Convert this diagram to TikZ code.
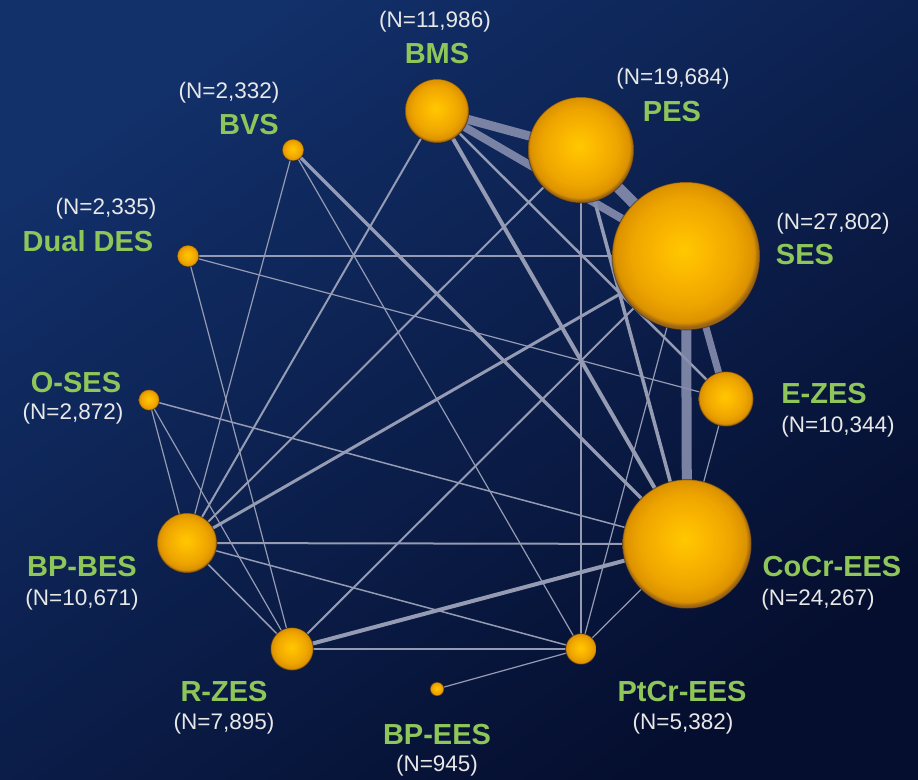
\documentclass[tikz,border=0pt]{standalone}
\usepackage{fontspec}
\setmainfont{Liberation Sans}
\definecolor{bgA}{HTML}{12306A}
\definecolor{bgM}{HTML}{031544}
\definecolor{bgB}{HTML}{050E2E}
\definecolor{bandc}{HTML}{878EAE}
\definecolor{linkc}{HTML}{959BB3}
\definecolor{namec}{HTML}{8FC65A}
\definecolor{numc}{HTML}{E8E8E8}
\definecolor{sphA}{HTML}{FFC800}
\definecolor{sphB}{HTML}{FBB800}
\definecolor{sphC}{HTML}{EEA500}
\definecolor{sphD}{HTML}{DC9200}
\definecolor{sphE}{HTML}{9A6414}
\pgfdeclareradialshading{sphere}{\pgfpoint{-1bp}{2bp}}{color(0bp)=(sphA); color(8bp)=(sphB); color(18bp)=(sphC); color(23.5bp)=(sphD); color(25bp)=(sphE); color(50bp)=(sphE)}
\pgfdeclarelayer{bglayer}
\pgfdeclarelayer{edgelayer}
\pgfsetlayers{bglayer,edgelayer,main}
\tikzset{
  ball/.style={circle, inner sep=0pt, minimum size=#1, shading=sphere, draw={rgb,255:red,30;green,25;blue,40}, draw opacity=0.45, line width=1pt},
  band/.style={draw=bandc, line width=#1, draw opacity=0.9},
  lnk/.style={draw=linkc, line width=#1},
  namelbl/.style={text=namec, font=\fontsize{29}{31}\selectfont\bfseries, inner sep=0pt},
  numlbl/.style={text=numc, font=\fontsize{22.5}{24}\selectfont, inner sep=0pt}
}
\begin{document}
\begin{tikzpicture}[x=1pt,y=-1pt]
\begin{pgfonlayer}{bglayer}
\shade[shading=axis, top color=bgA, middle color=bgM, bottom color=bgB, shading angle=35] (0,0) rectangle (918,779);
\end{pgfonlayer}
\useasboundingbox (0,0) rectangle (918,779);
% spheres
\node[ball=64pt]  (BMS)   at (437,111) {};
\node[ball=106pt] (PES)   at (581,150) {};
\node[ball=148pt] (SES)   at (686,256) {};
\node[ball=55pt]  (EZES)  at (726,399) {};
\node[ball=129pt] (CoCr)  at (687,544) {};
\node[ball=31pt]  (PtCr)  at (581,649) {};
\node[ball=14pt]  (BPEES) at (437,689) {};
\node[ball=43pt]  (RZES)  at (292,649) {};
\node[ball=60pt]  (BPBES) at (187,543) {};
\node[ball=21pt]  (OSES)  at (149,400) {};
\node[ball=22pt]  (Dual)  at (188,256) {};
\node[ball=22pt]  (BVS)   at (293,150) {};
% edges
\begin{pgfonlayer}{edgelayer}
\draw[lnk=1.2] (Dual.center) -- (SES.center);
\draw[lnk=1.2] (Dual.center) -- (EZES.center);
\draw[lnk=1.2] (Dual.center) -- (RZES.center);
\draw[lnk=1.2] (BVS.center) -- (BPBES.center);
\draw[lnk=1.2] (BVS.center) -- (PtCr.center);
\draw[lnk=1.5] (OSES.center) -- (CoCr.center);
\draw[lnk=1.2] (OSES.center) -- (BPBES.center);
\draw[lnk=1.2] (OSES.center) -- (RZES.center);
\draw[lnk=2] (BPBES.center) -- (CoCr.center);
\draw[lnk=1.5] (BPBES.center) -- (PtCr.center);
\draw[lnk=1.5] (BPBES.center) -- (RZES.center);
\draw[lnk=1.2] (RZES.center) -- (PtCr.center);
\draw[lnk=1.2] (PtCr.center) -- (PES.center);
\draw[lnk=1.2] (PtCr.center) -- (SES.center);
\draw[lnk=1.2] (PtCr.center) -- (CoCr.center);
\draw[lnk=1.2] (PtCr.center) -- (BPEES.center);
\draw[lnk=1.2] (EZES.center) -- (CoCr.center);
\draw[lnk=2] (BMS.center) -- (BPBES.center);
\draw[lnk=2] (PES.center) -- (BPBES.center);
\draw[lnk=2] (RZES.center) -- (SES.center);
\draw[lnk=3] (BPBES.center) -- (SES.center);
\draw[lnk=2.5] (BMS.center) -- (EZES.center);
\draw[lnk=3.5] (BVS.center) -- (CoCr.center);
\draw[lnk=4] (BMS.center) -- (CoCr.center);
\draw[lnk=3.5] (PES.center) -- (CoCr.center);
\draw[lnk=4] (RZES.center) -- (CoCr.center);
\draw[band=9] (BMS.center) -- (PES.center);
\draw[band=8] (BMS.center) -- (SES.center);
\draw[band=11] (PES.center) -- (SES.center);
\draw[band=10] (SES.center) -- (CoCr.center);
\draw[band=7] (SES.center) -- (EZES.center);
\end{pgfonlayer}
% labels
\node[numlbl]  (nBMS)   at (435,22)  {(N=11,986)};
\node[namelbl] (lBMS)   at (437,54)  {BMS};
\node[numlbl]  (nBVS)   at (229,93)  {(N=2,332)};
\node[namelbl] (lBVS)   at (249,125) {BVS};
\node[numlbl]  (nPES)   at (673,79)  {(N=19,684)};
\node[namelbl] (lPES)   at (672,112) {PES};
\node[numlbl]  (nDual)  at (106,209) {(N=2,335)};
\node[namelbl] (lDual)  at (88,241)  {Dual DES};
\node[numlbl]  (nSES)   at (833,224) {(N=27,802)};
\node[namelbl] (lSES)   at (805,255) {SES};
\node[namelbl] (lOSES)  at (76,383)  {O-SES};
\node[numlbl]  (nOSES)  at (73,414)  {(N=2,872)};
\node[namelbl] (lEZES)  at (824,394) {E-ZES};
\node[numlbl]  (nEZES)  at (838,427) {(N=10,344)};
\node[namelbl] (lBPBES) at (82,567)  {BP-BES};
\node[numlbl]  (nBPBES) at (82,600)  {(N=10,671)};
\node[namelbl] (lCoCr)  at (832,567) {CoCr-EES};
\node[numlbl]  (nCoCr)  at (818,600) {(N=24,267)};
\node[namelbl] (lRZES)  at (224,692) {R-ZES};
\node[numlbl]  (nRZES)  at (224,724) {(N=7,895)};
\node[namelbl] (lBPEES) at (437,735) {BP-EES};
\node[numlbl]  (nBPEES) at (437,766) {(N=945)};
\node[namelbl] (lPtCr)  at (682,692) {PtCr-EES};
\node[numlbl]  (nPtCr)  at (683,724) {(N=5,382)};
\end{tikzpicture}
\end{document}
